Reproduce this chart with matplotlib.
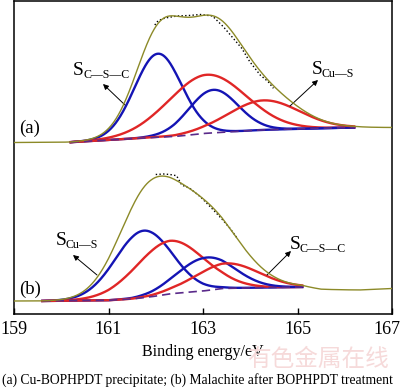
import numpy as np
import matplotlib.pyplot as plt
from matplotlib.transforms import ScaledTranslation

plt.rcParams['font.family'] = ['Liberation Serif', 'DejaVu Serif']

# binding energies of the fitted components (eV), heights (a.u.), widths (eV)
centers_a = [162.05, 163.08, 163.22, 164.28]
heights_a = [83.5, 58.5, 43.0, 29.5]
sigmas_a = [0.50, 0.82, 0.52, 0.75]
range_a = (160.2, 166.2)

centers_b = [161.74, 162.30, 163.06, 163.50]
heights_b = [67.0, 53.0, 33.0, 25.0]
sigmas_b = [0.60, 0.72, 0.60, 0.68]
range_b = (159.6, 165.1)

comp_colors = ['#1414b4', '#e02626', '#1414b4', '#e02626']

# background (Shirley)
bg_a_E = [159.0, 160.2, 161.0, 161.9, 162.4, 163.0, 163.6, 164.2, 165.0, 166.2, 167.0]
bg_a_I = [171.5, 171.8, 174.0, 176.5, 177.5, 180.5, 182.3, 184.0, 185.2, 186.5, 186.5]

bg_b_E = [159.0, 159.6, 161.0, 161.5, 161.9, 162.3, 163.0, 163.4, 164.0, 165.1, 165.5, 166.3, 167.0]
bg_b_I = [13.0, 13.0, 13.7, 15.0, 17.2, 20.2, 23.0, 25.5, 26.2, 27.0, 24.5, 24.0, 25.5]

# raw data points where they show beside the fit
raw_a_E = [161.98, 162.05, 162.20, 162.45, 162.70, 162.95, 163.20, 163.43, 163.64, 163.82, 163.99, 164.21, 164.38, 164.49]
raw_a_I = [289.0, 293.3, 296.0, 298.0, 298.5, 299.5, 298.0, 287.3, 275.7, 265.7, 252.3, 239.0, 232.3, 225.7]

raw_b_E = [162.00, 162.16, 162.30, 162.44, 162.55, 162.72, 162.95, 163.20, 163.40, 163.57, 163.71]
raw_b_I = [139.5, 140.0, 139.5, 138.3, 129.0, 125.7, 117.0, 105.0, 95.0, 85.7, 76.7]

ticks = [159, 161, 163, 165, 167]

E = np.linspace(159, 167, 801)


def peak(c, h, s):
    return h * np.exp(-(E - c) ** 2 / (2 * s ** 2))


fig = plt.figure(figsize=(4.01, 3.90), dpi=100)
ax = fig.add_axes([14 / 401, 76 / 390, 378 / 401, 313 / 390])


def draw_panel(centers, heights, sigmas, fit_range, bg_E, bg_I, raw_E, raw_I):
    bg = np.interp(E, bg_E, bg_I)
    comps = [peak(c, h, s) for c, h, s in zip(centers, heights, sigmas)]
    env = bg + np.sum(comps, axis=0)
    inside = (E >= fit_range[0]) & (E <= fit_range[1])
    ax.plot(raw_E, raw_I, ls=':', color='black', lw=1.0, zorder=2)
    for comp, col in zip(comps, comp_colors):
        ax.plot(E[inside], (bg + comp)[inside], color=col, lw=1.7, zorder=3)
    ax.plot(E[inside], bg[inside], color='#5a2a8a', lw=1.2, ls=(0, (5, 3)), zorder=4)
    ax.plot(E, env, color='#8c8a28', lw=1.0, zorder=5)


draw_panel(centers_a, heights_a, sigmas_a, range_a, bg_a_E, bg_a_I, raw_a_E, raw_a_I)
draw_panel(centers_b, heights_b, sigmas_b, range_b, bg_b_E, bg_b_I, raw_b_E, raw_b_I)

ax.set_xlim(159, 167)
ax.set_ylim(0, 313)
ax.set_xticks(ticks)
ax.set_yticks([])
ax.tick_params(axis='x', direction='in', length=4.5, width=1.0, labelsize=13, pad=5)
for sp in ax.spines.values():
    sp.set_linewidth(1.1)
ax.set_xlabel('Binding energy/eV', fontsize=11.5, labelpad=4)
# keep the last tick label inside the picture
last = ax.get_xticklabels()[-1]
last.set_transform(last.get_transform() + ScaledTranslation(-0.05, 0, fig.dpi_scale_trans))


def px(x, y):
    return (x, 390 - y)


def label(x, y, main, sub):
    fig.text(*px(x, y), main, transform=None, fontsize=14, va='baseline')
    fig.text(*px(x + 10, y + 3), sub, transform=None, fontsize=8.6, va='baseline')


def arrow(tail, head):
    ax.annotate('', xy=px(*head), xycoords='figure pixels', xytext=px(*tail),
                textcoords='figure pixels',
                arrowprops=dict(arrowstyle='-|>', color='black', lw=0.7,
                                mutation_scale=8, shrinkA=0, shrinkB=0))


label(73, 75, 'S', 'C\u2014S\u2014C')
arrow((125, 105), (103, 84))
label(312, 74, 'S', 'Cu\u2014S')
arrow((290, 106), (318, 80))
fig.text(*px(19, 133), '(a)', transform=None, fontsize=13.5, va='baseline')

label(56, 245, 'S', 'Cu\u2014S')
arrow((97, 275), (73, 255))
label(290, 249, 'S', 'C\u2014S\u2014C')
arrow((267, 275), (291, 251))
fig.text(*px(19, 294), '(b)', transform=None, fontsize=13.5, va='baseline')

fig.text(*px(247, 366), '有色金属在线', transform=None, fontsize=17,
         family=['Noto Sans CJK SC', 'DejaVu Sans'], color='#f6dada', zorder=0)
fig.text(*px(2, 384), '(a) Cu-BOPHPDT precipitate; (b) Malachite after BOPHPDT treatment',
         transform=None, fontsize=9.8, va='baseline')

fig.savefig('out.png', dpi=100)
